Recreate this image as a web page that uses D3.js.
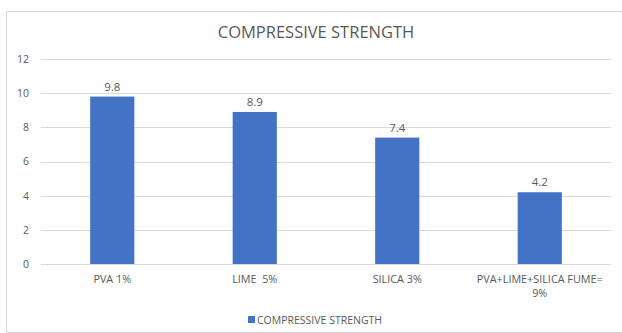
<!DOCTYPE html>
<html>
<head>
<meta charset="utf-8">
<script src="https://cdn.jsdelivr.net/npm/d3@7"></script>
<style>
  body { margin: 0; background: #fff; }
  text { font-family: "Open Sans", "Noto Sans", sans-serif; fill: #595959; white-space: pre; }
</style>
</head>
<body>
<div id="chart"></div>
<script>
// chart data
const categories = [["PVA 1%"], ["LIME  5%"], ["SILICA 3%"], ["PVA+LIME+SILICA FUME=", "9%"]];
const strengths = [9.8, 8.9, 7.4, 4.2];
const yTicks = [0, 2, 4, 6, 8, 10, 12];
const seriesName = "COMPRESSIVE STRENGTH";

const W = 622, H = 333;
const margin = { top: 59, right: 11, bottom: 69, left: 41 },
    width = W - margin.left - margin.right,
    height = H - margin.top - margin.bottom;

const root = d3.select("#chart").append("svg")
    .attr("width", W)
    .attr("height", H);

// outer frame
root.append("rect")
    .attr("x", 6.5).attr("y", 11.5)
    .attr("width", W).attr("height", H - 12)
    .attr("fill", "#fff")
    .attr("stroke", "#d9d9d9");

// title
root.append("text")
    .attr("x", 316).attr("y", 38)
    .attr("text-anchor", "middle")
    .attr("font-size", 16.5)
    .text("COMPRESSIVE STRENGTH");

const svg = root.append("g")
    .attr("transform", `translate(${margin.left},${margin.top})`);

const xScale = d3.scaleBand().domain(d3.range(categories.length)).range([0, width]);
const yScale = d3.scaleLinear().domain([0, 12]).range([height, 0]);

// gridlines
svg.selectAll(".grid")
    .data(yTicks)
    .enter()
    .append("line")
    .attr("x1", 0).attr("x2", width)
    .attr("y1", d => Math.round(yScale(d)) + 0.5)
    .attr("y2", d => Math.round(yScale(d)) + 0.5)
    .attr("stroke", "#d9d9d9");

// y axis labels
const yAxis = d3.axisLeft(yScale).tickValues(yTicks).tickSize(0).tickPadding(12);
const yAxisGroup = svg.append("g").call(yAxis);
yAxisGroup.select(".domain").remove();
yAxisGroup.selectAll("text")
    .attr("font-size", 10.5)
    .attr("font-family", "\"Open Sans\", sans-serif")
    .attr("fill", "#595959");

// bars
const barW = xScale.bandwidth() * 0.31;
svg.selectAll(".bar")
    .data(strengths)
    .enter()
    .append("rect")
    .attr("class", "bar")
    .attr("x", (d, i) => xScale(i) + (xScale.bandwidth() - barW) / 2)
    .attr("y", d => yScale(d))
    .attr("width", barW)
    .attr("height", d => height - yScale(d))
    .attr("fill", "#4472c4");

// value labels
svg.selectAll(".val")
    .data(strengths)
    .enter()
    .append("text")
    .attr("x", (d, i) => xScale(i) + xScale.bandwidth() / 2)
    .attr("y", d => yScale(d) - 6)
    .attr("text-anchor", "middle")
    .attr("font-size", 11.5)
    .text(d => d.toFixed(1));

// category labels
categories.forEach((lines, i) => {
    const t = svg.append("text")
        .attr("text-anchor", "middle")
        .attr("font-size", 10.8);
    lines.forEach((line, j) => {
        t.append("tspan")
            .attr("x", xScale(i) + xScale.bandwidth() / 2)
            .attr("y", height + 19 + j * 14)
            .text(line);
    });
});

// legend
const legend = root.append("g").attr("transform", "translate(248,320)");
legend.append("rect")
    .attr("x", 0).attr("y", -4)
    .attr("width", 7).attr("height", 7)
    .attr("fill", "#4472c4");
legend.append("text")
    .attr("x", 9).attr("y", 3.5)
    .attr("font-size", 10.5)
    .text(seriesName);
</script>
</body>
</html>
